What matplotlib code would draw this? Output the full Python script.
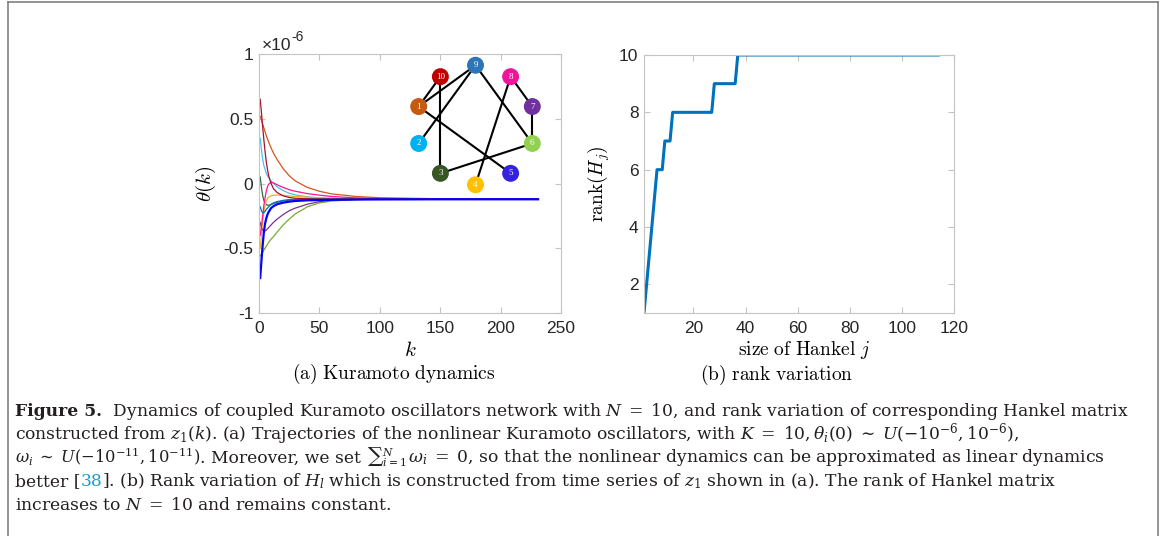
import matplotlib
matplotlib.use("Agg")
import matplotlib.pyplot as plt
import numpy as np
from matplotlib.lines import Line2D
from matplotlib.patches import Circle

plt.rcParams["font.family"] = ["Liberation Sans", "DejaVu Sans"]
plt.rcParams["mathtext.fontset"] = "cm"
plt.rcParams["axes.unicode_minus"] = False

W, H = 1165, 536

# ---- (a) Kuramoto trajectories, values in units of 1e-6 ----
k = [1, 2, 3, 4, 5, 6, 7, 8, 10, 12, 15, 20, 25, 30, 40, 50, 60, 80, 100, 150, 231]
theta_1 = [0.52, 0.49, 0.46, 0.43, 0.40, 0.37, 0.345, 0.32, 0.275, 0.235, 0.185, 0.115, 0.06, 0.02,
           -0.03, -0.06, -0.08, -0.10, -0.11, -0.118, -0.12]
theta_2 = [0.35, 0.26, 0.19, 0.14, 0.11, 0.08, 0.06, 0.045, 0.02, 0.0, -0.025, -0.055, -0.075, -0.088,
           -0.103, -0.111, -0.115, -0.119, -0.12, -0.12, -0.12]
theta_3 = [0.05, -0.03, -0.09, -0.13, -0.15, -0.163, -0.168, -0.168, -0.163, -0.155, -0.145, -0.135,
           -0.128, -0.124, -0.121, -0.12, -0.12, -0.12, -0.12, -0.12, -0.12]
theta_4 = [-0.50, -0.40, -0.30, -0.22, -0.17, -0.135, -0.115, -0.105, -0.095, -0.09, -0.09, -0.092,
           -0.097, -0.10, -0.106, -0.11, -0.114, -0.118, -0.12, -0.12, -0.12]
theta_5 = [-0.73, -0.60, -0.48, -0.38, -0.31, -0.27, -0.24, -0.22, -0.19, -0.175, -0.16, -0.148,
           -0.14, -0.135, -0.13, -0.128, -0.126, -0.124, -0.123, -0.122, -0.122]
theta_6 = [-0.56, -0.545, -0.53, -0.515, -0.50, -0.485, -0.47, -0.455, -0.43, -0.41, -0.375, -0.32,
           -0.275, -0.235, -0.18, -0.15, -0.135, -0.124, -0.121, -0.12, -0.12]
theta_7 = [-0.30, -0.34, -0.36, -0.37, -0.367, -0.36, -0.35, -0.34, -0.32, -0.30, -0.275, -0.24,
           -0.21, -0.19, -0.16, -0.14, -0.13, -0.123, -0.121, -0.12, -0.12]
theta_8 = [-0.40, -0.33, -0.25, -0.17, -0.11, -0.06, -0.025, -0.005, 0.01, 0.005, -0.01, -0.03,
           -0.048, -0.06, -0.078, -0.09, -0.10, -0.111, -0.116, -0.12, -0.12]
theta_9 = [-0.18, -0.21, -0.225, -0.225, -0.215, -0.20, -0.19, -0.18, -0.16, -0.15, -0.14, -0.13,
           -0.125, -0.122, -0.12, -0.12, -0.12, -0.12, -0.12, -0.12, -0.12]
theta_10 = [0.65, 0.55, 0.44, 0.34, 0.25, 0.17, 0.11, 0.06, 0.0, -0.04, -0.07, -0.095, -0.108,
            -0.114, -0.118, -0.12, -0.12, -0.12, -0.12, -0.12, -0.12]

node_colors = {1: "#c55a11", 2: "#00b0f0", 3: "#375623", 4: "#ffc000", 5: "#3422e0",
               6: "#92d050", 7: "#7030a0", 8: "#f0149b", 9: "#2e75b6", 10: "#c00000"}
curve_colors = {1: "#d95319", 2: "#4dbeee", 3: "#2e6b4a", 4: "#edb120", 5: "#0000ff",
                6: "#77ac30", 7: "#7e2f8e", 8: "#ff1493", 9: "#0072bd", 10: "#a2142f"}

edges = [(10, 1), (9, 1), (9, 2), (10, 3), (9, 6), (1, 5), (8, 7), (7, 6), (8, 4), (3, 6)]
ring_order = [9, 8, 7, 6, 5, 4, 3, 2, 1, 10]

# ---- (b) rank of Hankel matrix ----
hankel_j = [1, 6, 8, 9, 11, 12, 27, 28, 36, 37, 114]
rank_Hj = [1, 6, 6, 7, 7, 8, 8, 9, 9, 10, 10]

fig = plt.figure(figsize=(W / 100, H / 100), dpi=100)


def style_axes(ax):
    for s in ax.spines.values():
        s.set_color("#c4c4c4")
        s.set_linewidth(0.8)
    ax.tick_params(direction="in", length=4, width=0.8, color="#c4c4c4",
                   labelcolor="#262626", labelsize=12.5, top=True, right=True)
    ax.tick_params(axis="x", pad=6)
    ax.tick_params(axis="y", pad=4)


# panel (a)
ax_a = fig.add_axes([259 / W, 1 - 313 / H, 302 / W, 259 / H])
thetas = [theta_1, theta_2, theta_3, theta_4, theta_6, theta_7, theta_8, theta_9, theta_10, theta_5]
ids = [1, 2, 3, 4, 6, 7, 8, 9, 10, 5]
for i, th in zip(ids, thetas):
    ax_a.plot(k, th, color=curve_colors[i], lw=1.6 if i == 5 else 0.9)
ax_a.set_xlim(0, 250)
ax_a.set_ylim(-1, 1)
ax_a.set_xticks([0, 50, 100, 150, 200, 250])
ax_a.set_yticks([-1, -0.5, 0, 0.5, 1])
ax_a.set_yticklabels(["-1", "-0.5", "0", "0.5", "1"])
style_axes(ax_a)
ax_a.set_ylabel(r"$\theta(k)$", fontsize=15)
ax_a.yaxis.set_label_coords(-0.136, 0.5)
ax_a.set_xlabel(r"$k$", fontsize=15)
ax_a.xaxis.set_label_coords(0.5, -0.11)
ax_a.text(0.447, -0.19, r"$\mathrm{(a)\ Kuramoto\ dynamics}$", transform=ax_a.transAxes,
          ha="center", va="top", fontsize=14)
ax_a.text(0.01, 1.015, "×10", transform=ax_a.transAxes, ha="left", va="baseline",
          fontsize=12.5, color="#262626")
ax_a.text(0.107, 1.052, "-6", transform=ax_a.transAxes, ha="left", va="baseline",
          fontsize=10, color="#262626")

# network inset
ax_n = fig.add_axes([405 / W, 1 - 196 / H, 141 / W, 142 / H])
ax_n.set_xlim(-1.18, 1.18)
ax_n.set_ylim(-1.18, 1.18)
ax_n.set_aspect("equal")
ax_n.axis("off")
ang = np.deg2rad(90 - 36 * np.arange(len(ring_order)))
pos = {n: (np.cos(a), np.sin(a)) for n, a in zip(ring_order, ang)}
for a, b in edges:
    ax_n.plot([pos[a][0], pos[b][0]], [pos[a][1], pos[b][1]], color="black", lw=1.5, zorder=1)
for n, (x, y) in pos.items():
    ax_n.add_patch(Circle((x, y), 0.13, color=node_colors[n], zorder=2))
    ax_n.text(x, y, str(n), ha="center", va="center", color="white", fontsize=6.5,
              family="Liberation Serif", zorder=3)

# panel (b)
ax_b = fig.add_axes([644 / W, 1 - 313 / H, 310 / W, 258 / H])
ax_b.plot(hankel_j, rank_Hj, color="#0072bd", lw=2.2)
ax_b.set_xlim(1, 120)
ax_b.set_ylim(1, 10)
ax_b.set_xticks([20, 40, 60, 80, 100, 120])
ax_b.set_yticks([2, 4, 6, 8, 10])
style_axes(ax_b)
ax_b.set_ylabel(r"$\mathrm{rank}(H_j)$", fontsize=14)
ax_b.yaxis.set_label_coords(-0.103, 0.5)
ax_b.set_xlabel(r"$\mathrm{size\ of\ Hankel}\ j$", fontsize=14)
ax_b.xaxis.set_label_coords(0.516, -0.1)
ax_b.text(0.429, -0.195, r"$\mathrm{(b)\ rank\ variation}$", transform=ax_b.transAxes,
          ha="center", va="top", fontsize=14)

# caption
normal = dict(family="DejaVu Serif", color="#231f20")
bold = dict(family="DejaVu Serif", color="#231f20", weight="bold")
link = dict(family="DejaVu Serif", color="#1a9ad6")
caption_lines = [
    [("Figure 5.", bold, 1.0),
     (r"  Dynamics of coupled Kuramoto oscillators network with $N\;=\;10$, and rank variation of corresponding Hankel matrix", normal, 1.0)],
    [(r"constructed from $z_1(k)$. (a) Trajectories of the nonlinear Kuramoto oscillators, with $K\;=\;10, \theta_i(0)\;\sim\;U(-10^{-6}, 10^{-6})$,", normal, 1.0)],
    [(r"$\omega_i\;\sim\;U(-10^{-11}, 10^{-11})$", normal, 0.95),
     (r". Moreover, we set ", normal, 1.0),
     (r"${\sum}_{i=1}^{N}$", normal, 0.9),
     (r"$\,\omega_i\;=\;0$, so that the nonlinear dynamics can be approximated as linear dynamics", normal, 1.0)],
    [("better [", normal, 1.0), ("38", link, 1.0),
     (r"]. (b) Rank variation of $H_l$ which is constructed from time series of $z_1$ shown in (a). The rank of Hankel matrix", normal, 1.0)],
    [(r"increases to $N\;=\;10$ and remains constant.", normal, 1.0)],
]
renderer = fig.canvas.get_renderer()


def draw_caption(size):
    texts, ends = [], []
    for row, pieces in enumerate(caption_lines):
        x = 15
        y = 415.5 + 23.5 * row
        for s, kw, scale in pieces:
            t = fig.text(x / W, 1 - y / H, s, ha="left", va="baseline", fontsize=size * scale,
                         math_fontfamily="dejavuserif", **kw)
            x += t.get_window_extent(renderer).width
            texts.append(t)
        ends.append(x)
    return texts, ends


# fit the first caption line to the width it has in the print
base = 12.0
texts, ends = draw_caption(base)
for t in texts:
    t.remove()
draw_caption(base * (1125 - 15) / (ends[0] - 15))

# frame around the figure block
frame = dict(color="#808080", lw=1.2, transform=fig.transFigure)
fig.add_artist(Line2D([7.5 / W, 7.5 / W], [0, 1 - 1.5 / H], **frame))
fig.add_artist(Line2D([7.5 / W, 1157.5 / W], [1 - 1.5 / H, 1 - 1.5 / H], **frame))
fig.add_artist(Line2D([1157.5 / W, 1157.5 / W], [0, 1 - 1.5 / H], **frame))

fig.savefig("out.png", dpi=100)
